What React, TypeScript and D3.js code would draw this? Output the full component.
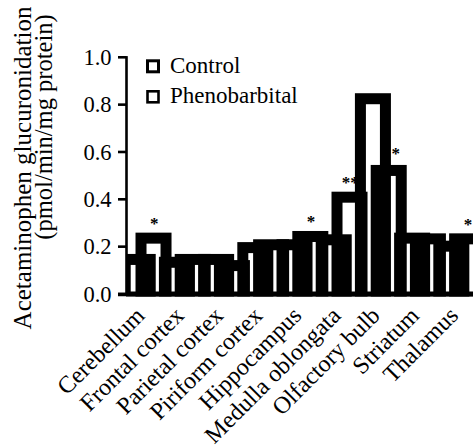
import React from 'react';
import * as d3 from 'd3';

const categories = ['Cerebellum', 'Frontal cortex', 'Parietal cortex', 'Piriform cortex', 'Hippocampus', 'Medulla oblongata', 'Olfactory bulb', 'Striatum', 'Thalamus'];
const controlValues = [0.146, 0.134, 0.146, 0.196, 0.208, 0.229, 0.825, 0.236, 0.202];
const phenobarbitalValues = [0.236, 0.146, 0.120, 0.208, 0.243, 0.409, 0.522, 0.233, 0.233];
const significance = ['*', '', '', '', '*', '**', '*', '', '*'];
const yTicks = [0, 0.2, 0.4, 0.6, 0.8, 1.0];
const seriesNames = ['Control', 'Phenobarbital'];
const yTitleLines = ['Acetaminophen glucuronidation', '(pmol/min/mg protein)'];

const W = 473;
const H = 446;
const FONT = 'Liberation Serif';

export default function App() {
  const y = d3.scaleLinear().domain([0, 1]).range([294, 57.3]);
  const x = d3.scaleBand<string>().domain(categories).range([126, 126 + 9 * 39.2]).padding(0);
  const bw = x.bandwidth();
  const sw = 11;
  const barW = bw * 0.638;
  const ctrlOff = -bw * 0.02;
  const phenOff = bw * 0.383;
  const y0 = y(0);

  const bars: { key: string; bx: number; v: number }[] = [];
  categories.forEach((c, i) => {
    bars.push({ key: c + '-c', bx: (x(c) as number) + ctrlOff, v: controlValues[i] });
    bars.push({ key: c + '-p', bx: (x(c) as number) + phenOff, v: phenobarbitalValues[i] });
  });

  return (
    <svg width={W} height={H} style={{ position: 'absolute', left: 0, top: 0, background: '#fff' }} fontFamily={FONT}>
      <defs>
        <clipPath id="plotClip">
          <rect x={126} y={0} width={W} height={y0 + 2.5} />
        </clipPath>
      </defs>
      <g clipPath="url(#plotClip)">
        {bars.map((b) => (
          <rect key={b.key} x={b.bx} y={y(b.v)} width={barW} height={y0 - y(b.v) + 3}
            fill="none" stroke="#000" strokeWidth={sw} />
        ))}
      </g>
      {/* significance marks: nudged right when the control bar is taller and would hide them */}
      {categories.map((c, i) => {
        if (!significance[i]) return null;
        const hidden = controlValues[i] > phenobarbitalValues[i];
        const cx = (x(c) as number) + phenOff + barW / 2 + (hidden ? 7 : 0.8);
        return (
          <text key={'s' + c} x={cx} y={y(phenobarbitalValues[i]) - 9 - (hidden ? 2 : 0)}
            textAnchor="middle" fontSize={17} fontWeight="bold" fontFamily={FONT}>{significance[i]}</text>
        );
      })}
      {/* axes */}
      <line x1={126.5} x2={126.5} y1={y(1) - 1.2} y2={y0 + 2} stroke="#000" strokeWidth={2.6} />
      {yTicks.map((t) => (
        <line key={'tk' + t} x1={118} x2={126.5} y1={y(t)} y2={y(t)} stroke="#000" strokeWidth={2.6} />
      ))}
      {yTicks.map((t) => (
        <text key={'tl' + t} transform={`translate(111.5,${y(t) + 7.8}) rotate(0.01)`} textAnchor="end" fontSize={22.5} fontFamily="Times New Roman">{t.toFixed(1)}</text>
      ))}
      <line x1={118} x2={W} y1={y0 + 0.5} y2={y0 + 0.5} stroke="#000" strokeWidth={3.5} />
      {/* x labels */}
      {categories.map((c) => (
        <text key={'l' + c} transform={`translate(${(x(c) as number) + bw / 2 - 5.5},${y0 + 17}) rotate(-45)`}
          textAnchor="end" dy="0.35em" fontSize={24} fontFamily={FONT}>{c}</text>
      ))}
      {/* y title */}
      <text transform={`translate(31,168) rotate(-90)`} textAnchor="middle" fontSize={25} fontFamily={FONT}>{yTitleLines[0]}</text>
      <text transform={`translate(52,127) rotate(-90)`} textAnchor="middle" fontSize={24.5} fontFamily={FONT}>{yTitleLines[1]}</text>
      {/* legend */}
      {seriesNames.map((s, i) => (
        <rect key={'lr' + s} x={147.5} y={60.8 + i * 30.5} width={11} height={11} fill="none" stroke="#000" strokeWidth={i === 0 ? 3 : 2.6} />
      ))}
      <text transform={`translate(170,72.7) rotate(0.01)`} fontSize={23} fontFamily={FONT}>{seriesNames[0]}</text>
      <text x={170} y={72.7 + 30.7} fontSize={23} fontFamily="serif">{seriesNames[1]}</text>
    </svg>
  );
}
